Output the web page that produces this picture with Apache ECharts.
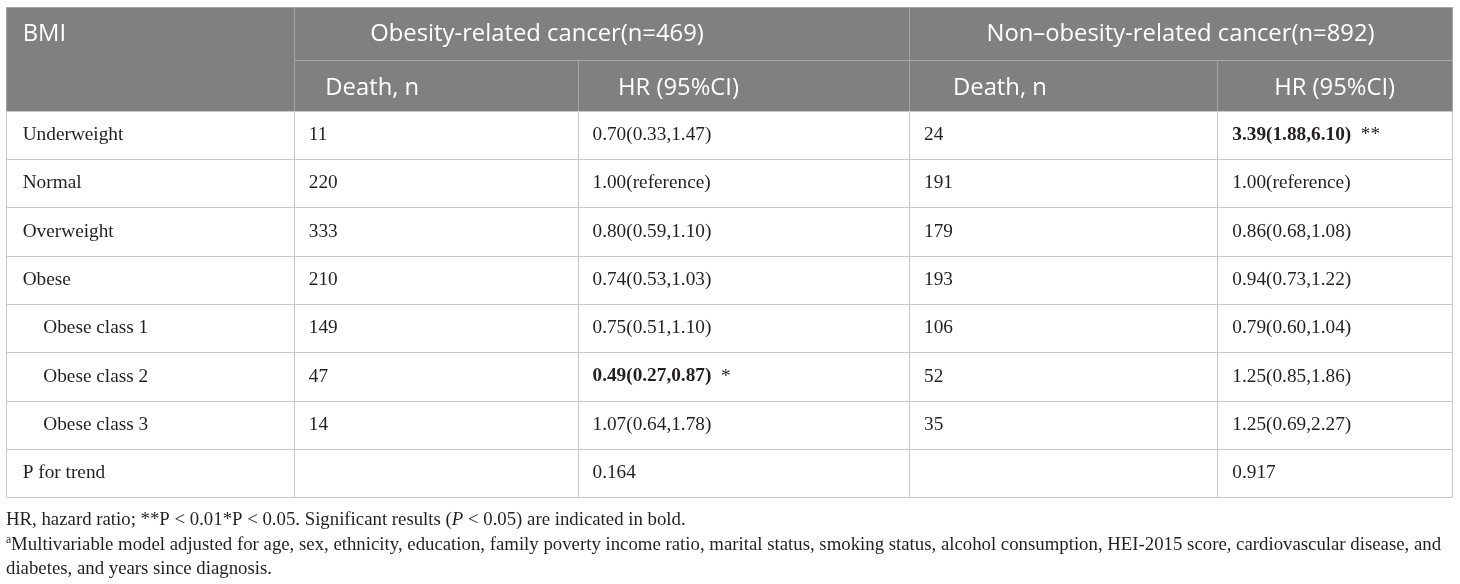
<!DOCTYPE html>
<html>
<head>
<meta charset="utf-8">
<script src="https://cdn.jsdelivr.net/npm/echarts@6/dist/echarts.min.js"></script>
<style>
  html, body { margin: 0; padding: 0; background: #ffffff; }
  #chart { width: 1460px; height: 584px; }
</style>
</head>
<body>
<div id="chart"></div>
<script>
// datos de la tabla (HR por categoría de IMC)
const bmiRows = ['Underweight', 'Normal', 'Overweight', 'Obese', 'Obese class 1', 'Obese class 2', 'Obese class 3', 'P for trend'];
const indentedRows = [false, false, false, false, true, true, true, false];
const groupHeaders = ['Obesity-related cancer(n=469)', 'Non\u2013obesity-related cancer(n=892)'];
const subHeaders = ['Death, n', 'HR (95%CI)'];
const obesityDeaths = ['11', '220', '333', '210', '149', '47', '14', ''];
const obesityHR = ['0.70(0.33,1.47)', '1.00(reference)', '0.80(0.59,1.10)', '0.74(0.53,1.03)', '0.75(0.51,1.10)', '0.49(0.27,0.87)', '1.07(0.64,1.78)', '0.164'];
const obesitySig = ['', '', '', '', '', '*', '', ''];
const nonObesityDeaths = ['24', '191', '179', '193', '106', '52', '35', ''];
const nonObesityHR = ['3.39(1.88,6.10)', '1.00(reference)', '0.86(0.68,1.08)', '0.94(0.73,1.22)', '0.79(0.60,1.04)', '1.25(0.85,1.86)', '1.25(0.69,2.27)', '0.917'];
const nonObesitySig = ['**', '', '', '', '', '', '', ''];

// layout (unidades de la tabla)
const colEdges = [0, 288.3, 572, 903, 1211.3, 1446];
const headEdges = [0, 52.7, 103.5];
const rowH = 48.3;
const tableH = headEdges[2] + rowH * bmiRows.length;

const HEAD_FONT = '"Open Sans", "Noto Sans", sans-serif';
const BODY_FONT = '"Liberation Serif", "DejaVu Serif", serif';
const HEAD_SIZE = 23.8;
const BODY_SIZE = 19.3;

// construir las celdas
const cells = [];
function addCell(c0, c1, y0, y1, text, opts) {
  cells.push(Object.assign({ x0: colEdges[c0], x1: colEdges[c1], y0: y0, y1: y1, text: text, dy: 0 }, opts));
}
// cabecera
addCell(0, 1, headEdges[0], headEdges[2], 'BMI', { head: true, pad: 16.7, textY1: headEdges[1], dy: 0.5 });
addCell(1, 3, headEdges[0], headEdges[1], groupHeaders[0], { head: true, pad: 76, dy: 0.5 });
addCell(3, 5, headEdges[0], headEdges[1], groupHeaders[1], { head: true, align: 'center', dy: 0.5 });
addCell(1, 2, headEdges[1], headEdges[2], subHeaders[0], { head: true, pad: 31, dy: 2.5 });
addCell(2, 3, headEdges[1], headEdges[2], subHeaders[1], { head: true, pad: 40, dy: 2.5 });
addCell(3, 4, headEdges[1], headEdges[2], subHeaders[0], { head: true, pad: 44, dy: 2.5 });
addCell(4, 5, headEdges[1], headEdges[2], subHeaders[1], { head: true, align: 'center', dy: 2.5 });
// cuerpo
function hrText(v, sig) {
  return sig ? '{b|' + v + '}  ' + sig : v;
}
bmiRows.forEach(function (name, i) {
  const y0 = headEdges[2] + i * rowH, y1 = y0 + rowH;
  addCell(0, 1, y0, y1, name, { pad: indentedRows[i] ? 37.3 : 16.7 });
  addCell(1, 2, y0, y1, obesityDeaths[i], { pad: 14.5 });
  addCell(2, 3, y0, y1, hrText(obesityHR[i], obesitySig[i]), { pad: 14.5 });
  addCell(3, 4, y0, y1, nonObesityDeaths[i], { pad: 15 });
  addCell(4, 5, y0, y1, hrText(nonObesityHR[i], nonObesitySig[i]), { pad: 15 });
});

const seriesData = cells.map(function (c, i) { return [c.x0, c.x1, c.y0, c.y1, i]; });

function renderCell(params, api) {
  const c = cells[api.value(4)];
  const p0 = api.coord([api.value(0), api.value(2)]);
  const p1 = api.coord([api.value(1), api.value(3)]);
  const x = Math.round(p0[0]) + 0.5, y = Math.round(p0[1]) + 0.5;
  const w = Math.round(p1[0]) - Math.round(p0[0]);
  const h = Math.round(p1[1]) - Math.round(p0[1]);
  const ty = (c.textY1 != null ? (p0[1] + api.coord([0, c.textY1])[1]) / 2 : (p0[1] + p1[1]) / 2) + c.dy;
  const tx = c.align === 'center' ? (p0[0] + p1[0]) / 2 : p0[0] + c.pad;
  return {
    type: 'group',
    children: [
      {
        type: 'rect',
        shape: { x: x, y: y, width: w, height: h },
        style: { fill: c.head ? '#808080' : '#ffffff', stroke: c.head ? '#a6a6a6' : '#c9c9c9', lineWidth: 1 }
      },
      {
        type: 'text',
        z2: 10,
        style: {
          x: tx, y: ty,
          text: c.text,
          align: c.align === 'center' ? 'center' : 'left',
          verticalAlign: 'middle',
          fill: c.head ? '#ffffff' : '#231f20',
          fontFamily: c.head ? HEAD_FONT : BODY_FONT,
          fontSize: c.head ? HEAD_SIZE : BODY_SIZE,
          rich: {
            b: { fontFamily: BODY_FONT, fontSize: BODY_SIZE, fontWeight: 'bold', fill: '#231f20' }
          }
        }
      }
    ]
  };
}

const FOOT_SIZE = 18.8;
const footRich = {
  i: { fontFamily: BODY_FONT, fontSize: FOOT_SIZE, fontStyle: 'italic', fill: '#231f20' },
  sup: { fontFamily: BODY_FONT, fontSize: 11.5, fill: '#231f20', verticalAlign: 'top', lineHeight: 12 }
};
const footLines = [
  'HR, hazard ratio; **P < 0.01*P < 0.05. Significant results ({i|P} < 0.05) are indicated in bold.',
  '{sup|a}Multivariable model adjusted for age, sex, ethnicity, education, family poverty income ratio, marital status, smoking status, alcohol consumption, HEI-2015 score, cardiovascular disease, and',
  'diabetes, and years since diagnosis.'
];
const footY = [520, 545.5, 569.5];

const chart = echarts.init(document.getElementById('chart'));
chart.setOption({
  backgroundColor: '#ffffff',
  animation: false,
  grid: { left: 6, top: 7.3, width: colEdges[colEdges.length - 1], height: tableH, containLabel: false },
  xAxis: { type: 'value', min: 0, max: colEdges[colEdges.length - 1], show: false },
  yAxis: { type: 'value', min: 0, max: tableH, inverse: true, show: false },
  series: [{
    type: 'custom',
    renderItem: renderCell,
    encode: { x: [0, 1], y: [2, 3] },
    clip: false,
    data: seriesData
  }],
  graphic: footLines.map(function (t, i) {
    return {
      type: 'text',
      left: 6,
      top: footY[i] - 12,
      style: {
        text: t,
        fill: '#231f20',
        fontFamily: BODY_FONT,
        fontSize: FOOT_SIZE,
        lineHeight: 24,
        rich: footRich
      }
    };
  })
});
window.onresize = function () { chart.resize(); };
</script>
</body>
</html>
